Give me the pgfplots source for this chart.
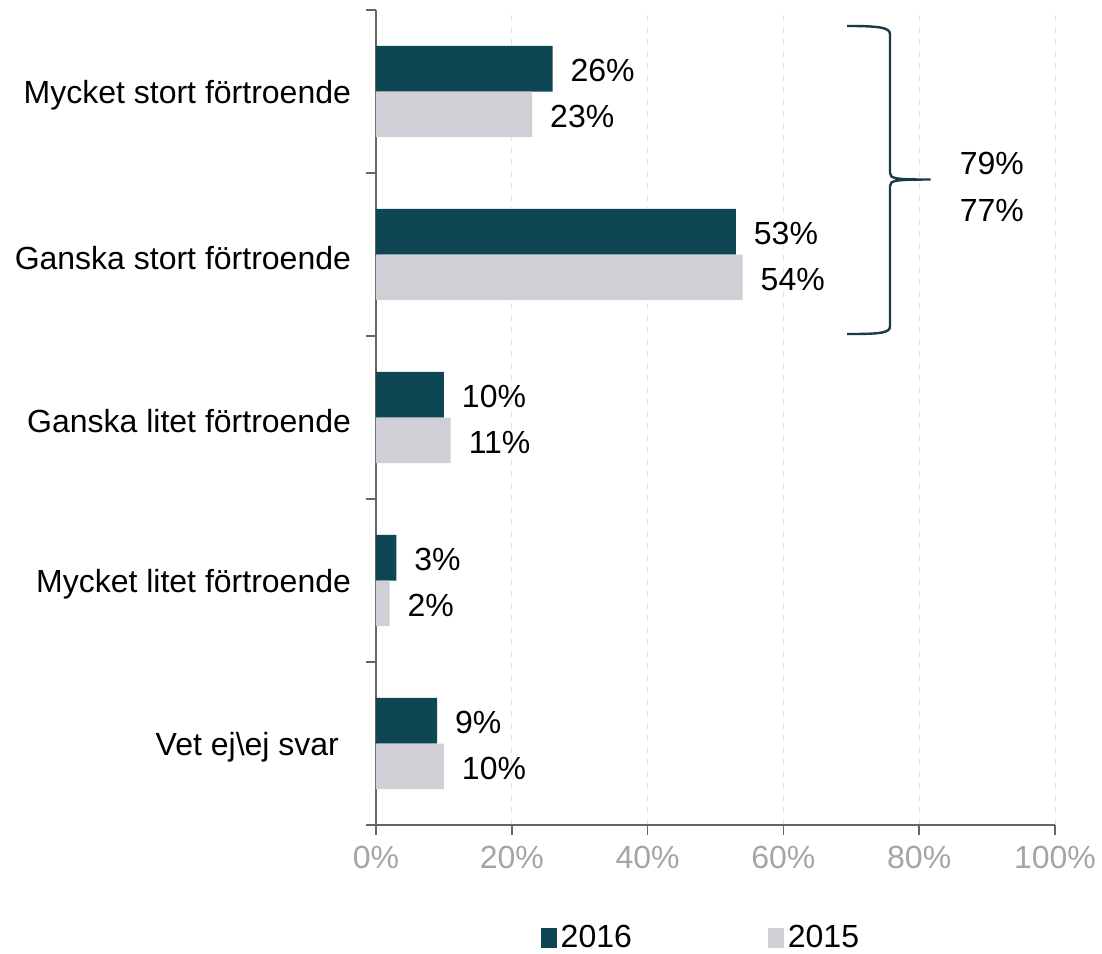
\documentclass[border=0pt]{standalone}
\usepackage{fontspec}
\setmainfont{Liberation Sans}
\usepackage{pgfplots}
\pgfplotsset{compat=1.18}
\definecolor{c2016}{HTML}{0E4753}
\definecolor{c2015}{HTML}{CFCFD5}
\definecolor{axisgray}{HTML}{666666}
\definecolor{ticklab}{HTML}{A5A5A5}
\definecolor{bracecol}{HTML}{1A3A45}
\begin{document}
\begin{tikzpicture}[font=\fontsize{16}{19}\selectfont]
\path[use as bounding box] (-188pt,-64pt) rectangle (363pt,412.5pt);
\begin{axis}[
  at={(0pt,0pt)}, anchor=south west,
  scale only axis, width=339.5pt, height=407.5pt,
  xbar, bar width=0.28,
  xmin=0, xmax=100, ymin=-0.5, ymax=4.5,
  clip=false,
  /pgf/number format/assume math mode=true,
  axis lines*=left,
  axis line style={axisgray, line width=0.8pt},
  xtick={0,20,...,100},
  xticklabels={0\%,20\%,40\%,60\%,80\%,100\%},
  xticklabel style={text=ticklab, yshift=-2pt, font=\fontsize{16}{19}\selectfont},
  xmajorgrids, grid style={gray!22, dashed, line width=0.5pt},
  tick align=outside, major tick length=5pt,
  tick style={axisgray, line width=0.8pt},
  ytick={-0.5,0.5,...,4.5}, yticklabels={},
  extra y ticks={0,1,2,3,4},
  extra y tick labels={Vet ej\textbackslash ej svar\kern6pt, Mycket litet förtroende, Ganska litet förtroende, Ganska stort förtroende, Mycket stort förtroende},
  extra y tick style={major tick length=0pt, yticklabel style={xshift=-9pt, yshift=-2pt, text=black, font=\fontsize{16}{19}\selectfont}},
  nodes near coords={\pgfmathprintnumber{\pgfplotspointmeta}\%},
  nodes near coords align={horizontal},
  every node near coord/.append style={text=black, xshift=5.5pt, yshift=-1pt, font=\fontsize{16}{19}\selectfont},
  legend style={at={(0.48,-0.139)}, anchor=center, draw=none, fill=none, legend columns=2,
    /tikz/every even column/.append style={column sep=66pt}, text=black, font=\fontsize{16}{19}\selectfont},
  legend image code/.code={\path[#1,draw=none] (0pt,-5pt) rectangle (8pt,5pt);},
]
\addplot[fill=c2016, draw=none, bar shift=0.14] coordinates {(26,4) (53,3) (10,2) (3,1) (9,0)};
\addplot[fill=c2015, draw=none, bar shift=-0.14] coordinates {(23,4) (54,3) (11,2) (2,1) (10,0)};
\legend{2016,2015}
\draw[bracecol, line width=1.2pt]
  (axis cs:69.4,4.402) .. controls (axis cs:74.5,4.402) and (axis cs:75.7,4.39) .. (axis cs:75.7,4.35)
  -- (axis cs:75.7,3.50) .. controls (axis cs:75.7,3.465) and (axis cs:76.5,3.46) .. (axis cs:81.7,3.46)
  (axis cs:81.7,3.46) .. controls (axis cs:76.5,3.46) and (axis cs:75.7,3.455) .. (axis cs:75.7,3.42)
  -- (axis cs:75.7,2.56) .. controls (axis cs:75.7,2.52) and (axis cs:74.5,2.512) .. (axis cs:69.4,2.512);
\node[anchor=center, text=black] at (axis cs:90.7,3.56) {79\%};
\node[anchor=center, text=black] at (axis cs:90.7,3.27) {77\%};
\end{axis}
\end{tikzpicture}
\end{document}
